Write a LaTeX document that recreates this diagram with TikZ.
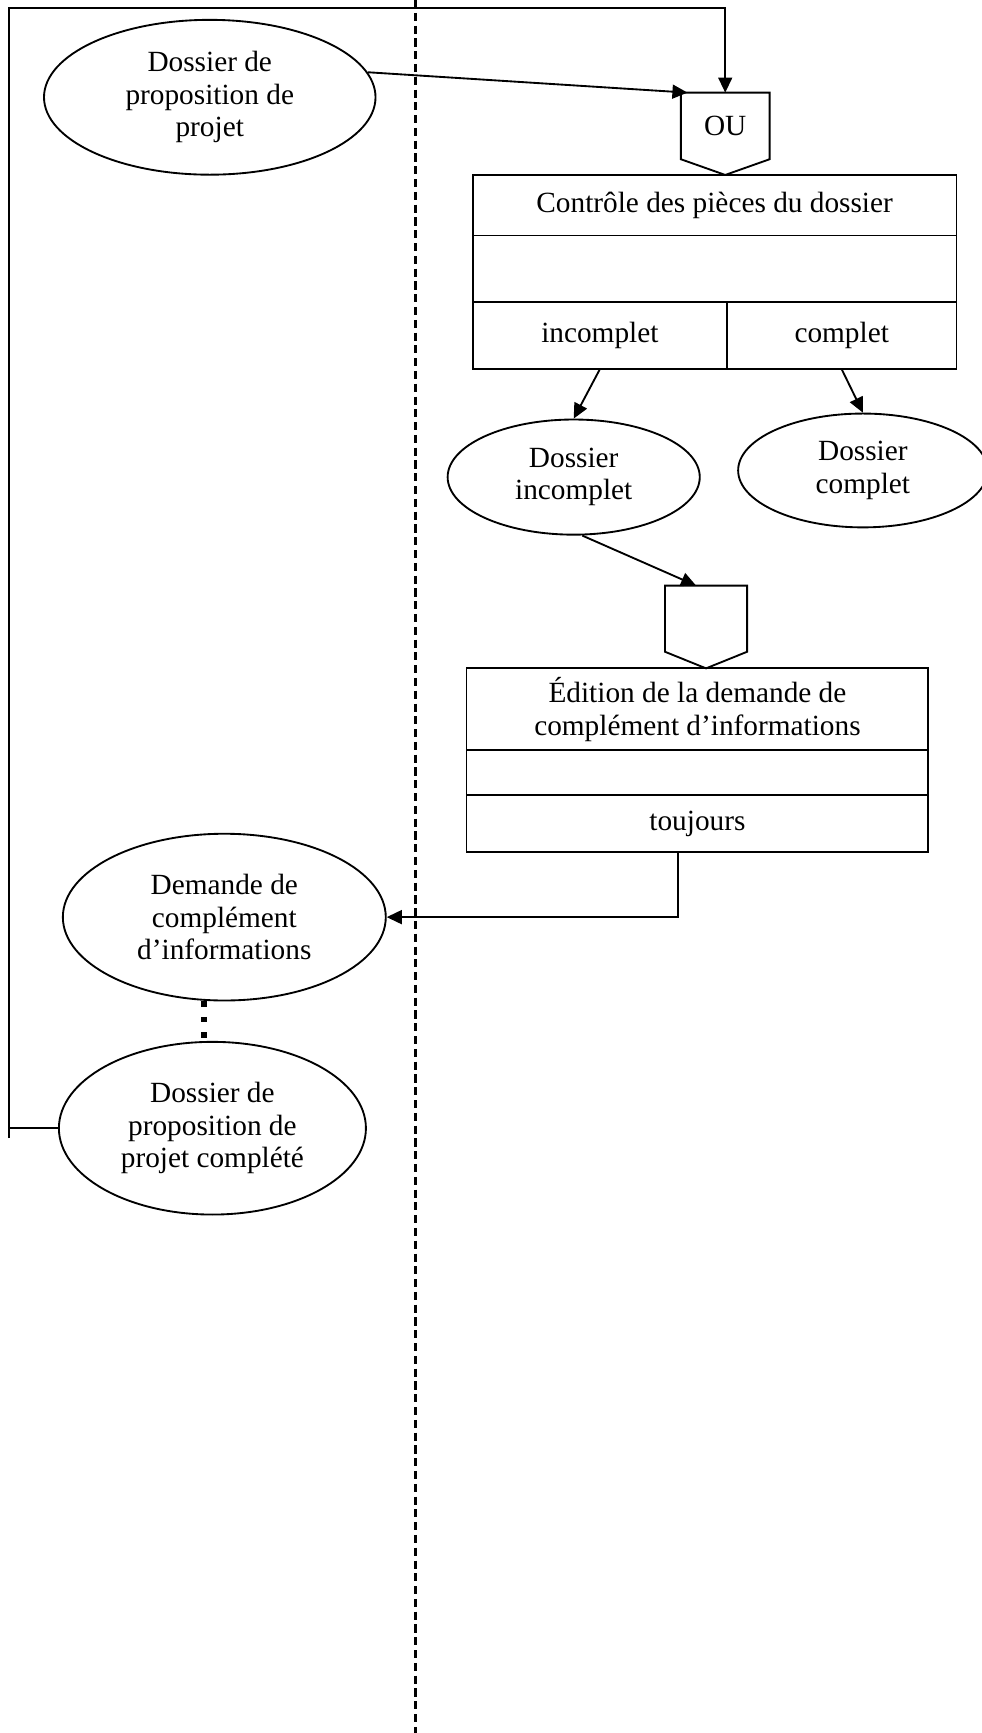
\documentclass[tikz,border=0pt]{standalone}
\usepackage{fontspec}
\setmainfont{Liberation Serif}
\usetikzlibrary{arrows.meta,positioning,shapes.geometric,shapes.symbols}

\begin{document}
\begin{tikzpicture}[line width=0.8pt, >={Triangle[length=6.5pt,width=6pt]},
  data node/.style={ellipse,draw,inner sep=0pt,align=center},
  cell/.style={rectangle,draw,inner sep=0pt,outer sep=0pt,align=center},
  gate/.style={signal,signal to=south,draw,inner sep=0pt,outer sep=0pt}]
\useasboundingbox (0,0) rectangle (14.83,-26.19);
% swimlane separator
\draw[line width=1pt, dash pattern=on 3.5pt off 2pt] (6.28,0) -- (6.28,-26.19);
\begin{scope}[every node/.style={font=\fontsize{12.6}{14}\selectfont}]
\node[data node, minimum width=5.01cm, minimum height=2.34cm] (dprop) at (3.17,-1.47) {Dossier de\\proposition de\\projet};
\node[gate, minimum width=1.34cm, minimum height=1.12cm, signal pointer angle=141, anchor=north] (ou) at (10.96,-1.40) {OU};
\node[cell, minimum width=7.31cm, minimum height=0.92cm] (ctrl) at (10.80,-3.10) {Contrôle des pièces du dossier};
\node[cell, minimum width=7.31cm, minimum height=1.00cm, below=0pt of ctrl] (ctrlmid) {};
\node[cell, minimum width=3.84cm, minimum height=1.02cm, anchor=north west] (inc) at (ctrlmid.south west) {incomplet};
\node[cell, minimum width=3.47cm, minimum height=1.02cm, anchor=north west] (cpl) at (inc.north east) {complet};
\node[data node, minimum width=3.81cm, minimum height=1.74cm] (dinc) at (8.67,-7.21) {Dossier\\incomplet};
\node[data node, minimum width=3.77cm, minimum height=1.72cm] (dcpl) at (13.04,-7.11) {Dossier\\complet};
\node[gate, minimum width=1.24cm, minimum height=1.0cm, signal pointer angle=136, anchor=north] (gate2) at (10.67,-8.85) {};
\node[cell, minimum width=6.98cm, minimum height=1.24cm] (edit) at (10.54,-10.72) {Édition de la demande de\\complément d’informations};
\node[cell, minimum width=6.98cm, minimum height=0.68cm, below=0pt of edit] (editmid) {};
\node[cell, minimum width=6.98cm, minimum height=0.85cm, below=0pt of editmid] (tjr) {toujours};
\node[data node, minimum width=4.88cm, minimum height=2.52cm] (dem) at (3.39,-13.86) {Demande de\\complément\\d’informations};
\node[data node, minimum width=4.64cm, minimum height=2.61cm] (dcomp) at (3.21,-17.05) {Dossier de\\proposition de\\projet complété};
\end{scope}
% loop back
\coordinate (tl) at (0.13,-0.12);
\coordinate (bl) at (0.13,-17.20);
\draw[->] (bl) -- (tl) -- (tl -| ou.north) -- (ou.north);
\draw (dcomp.west) -- (dcomp.west -| tl);
\draw[->] (dprop.9) -- ([xshift=0.1cm]ou.north west);
\draw[->] (inc.south) -- (dinc.north);
\draw[->] (cpl.south) -- (dcpl.north);
\draw[->] ([xshift=0.13cm]dinc.south) -- ([xshift=-0.15cm]gate2.north);
\draw[->] ([xshift=-0.3cm]tjr.south) |- (dem.east);
\draw[line width=2.6pt, dash pattern=on 2.4pt off 4.2pt] ([xshift=-0.3cm]dem.south) -- ([xshift=-0.3cm]dem.south |- dcomp.north);
\end{tikzpicture}
\end{document}
